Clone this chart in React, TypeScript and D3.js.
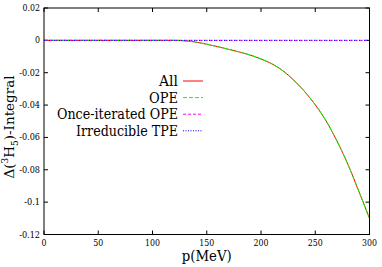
import React from "react";
import * as d3 from "d3";

const momenta = [0, 10, 20, 30, 40, 50, 60, 70, 80, 90, 100, 110, 120, 130, 140, 150, 160, 170, 180, 190, 200, 210, 220, 230, 240, 250, 260, 270, 280, 290, 300];
const allValues = [0, 0, 0, 0, 0, 0, 0, 0, 0, 0, 0, 0, 0, -0.0003, -0.0011, -0.0024, -0.0039, -0.0055, -0.0072, -0.0091, -0.0115, -0.0145, -0.0187, -0.0245, -0.0315, -0.0398, -0.0498, -0.0622, -0.0765, -0.093, -0.11];
const opeValues = [0, 0, 0, 0, 0, 0, 0, 0, 0, 0, 0, 0, 0, -0.0003, -0.0011, -0.0024, -0.0039, -0.0055, -0.0072, -0.0091, -0.0115, -0.0145, -0.0187, -0.0245, -0.0315, -0.0398, -0.0498, -0.0622, -0.0765, -0.093, -0.11];
const onceIteratedValues = [0, 0, 0, 0, 0, 0, 0, 0, 0, 0, 0, 0, 0, 0, 0, 0, 0, 0, 0, 0, 0, 0, 0, 0, 0, 0, 0, 0, 0, 0, 0];
const irreducibleValues = [0, 0, 0, 0, 0, 0, 0, 0, 0, 0, 0, 0, 0, 0, 0, 0, 0, 0, 0, 0, 0, 0, 0, 0, 0, 0, 0, 0, 0, 0, 0];

const xTicks = [0, 50, 100, 150, 200, 250, 300];
const yTicks = [0.02, 0, -0.02, -0.04, -0.06, -0.08, -0.1, -0.12];
const yTickLabels = ["0.02", "0", "-0.02", "-0.04", "-0.06", "-0.08", "-0.1", "-0.12"];

const seriesNames = ["All", "OPE", "Once-iterated OPE", "Irreducible TPE"];
const seriesColors = ["#ff0000", "#00ff00", "#ff00ff", "#0000ff"];
const seriesDash = ["none", "4,2", "3,2", "1,1.5"];

// approximate Times-like advance widths (em) used to fit the available serif font
const timesWidth = (s: string, size: number) => {
  let w = 0;
  for (const c of s) {
    if (/[0-9]/.test(c)) w += 0.5;
    else if (c === ".") w += 0.25;
    else if (c === "-") w += 0.333;
    else w += 0.5;
  }
  return w * size;
};

export default function App() {
  const W = 382, H = 267;
  const L = 44, R = 369.5, T = 8, B = 234.5;
  const x = d3.scaleLinear().domain([0, 300]).range([L, R]);
  const y = d3.scaleLinear().domain([-0.12, 0.02]).range([B, T]);
  const line = d3.line<number>().x((_, i) => x(momenta[i])).y((d) => y(d)).curve(d3.curveMonotoneX);
  const seriesValues = [allValues, opeValues, onceIteratedValues, irreducibleValues];
  const font = "'DejaVu Serif', serif";
  const legendLengths = [19, 29, 121, 102];
  const tk = 4;

  return (
    <svg width={W} height={H} style={{ position: "absolute", left: 0, top: 0 }} fontFamily={font}>
      <rect x={0} y={0} width={W} height={H} fill="#fff" />
      <defs>
        <clipPath id="plotclip">
          <rect x={L} y={T} width={R - L} height={B - T} />
        </clipPath>
      </defs>
      {xTicks.map((t) => (
        <g key={"x" + t}>
          <line x1={x(t)} x2={x(t)} y1={B} y2={B - tk} stroke="#000" strokeWidth={1} />
          <line x1={x(t)} x2={x(t)} y1={T} y2={T + tk} stroke="#000" strokeWidth={1} />
          <text x={x(t)} y={246} fontSize={9.5} textAnchor="middle" textLength={timesWidth(String(t), 10)} lengthAdjust="spacingAndGlyphs">{t}</text>
        </g>
      ))}
      {yTicks.map((t, i) => (
        <g key={"y" + i}>
          <line x1={L} x2={L + tk} y1={y(t)} y2={y(t)} stroke="#000" strokeWidth={1} />
          <line x1={R} x2={R - tk} y1={y(t)} y2={y(t)} stroke="#000" strokeWidth={1} />
          <text x={40} y={y(t) + 3} fontSize={9.5} textAnchor="end" textLength={timesWidth(yTickLabels[i], 10)} lengthAdjust="spacingAndGlyphs">{yTickLabels[i]}</text>
        </g>
      ))}
      <g clipPath="url(#plotclip)">
        {seriesValues.map((vals, i) => (
          <path key={i} d={line(vals) || ""} fill="none" stroke={seriesColors[i]} strokeWidth={1} strokeDasharray={seriesDash[i]} />
        ))}
      </g>
      <rect x={L} y={T} width={R - L} height={B - T} fill="none" stroke="#000" strokeWidth={1} />
      {seriesNames.map((n, i) => {
        const yy = 81 + i * 16.6;
        return (
          <g key={n}>
            <text x={178} y={yy + 5} fontSize={14} textAnchor="end" textLength={legendLengths[i]} lengthAdjust="spacingAndGlyphs">{n}</text>
            <line x1={183} x2={203} y1={yy} y2={yy} stroke={seriesColors[i]} strokeWidth={1} strokeDasharray={seriesDash[i]} />
          </g>
        );
      })}
      <text x={(L + R) / 2} y={261} fontSize={14} textAnchor="middle" textLength={50} lengthAdjust="spacingAndGlyphs">p(MeV)</text>
      <text transform={`translate(14,${127}) rotate(-90)`} fontSize={13.5} textAnchor="middle">
        Δ(<tspan fontSize={9} dy={-6}>3</tspan><tspan dy={6}>H</tspan><tspan fontSize={9} dy={4}>5</tspan><tspan dy={-4}>)-Integral</tspan>
      </text>
    </svg>
  );
}
